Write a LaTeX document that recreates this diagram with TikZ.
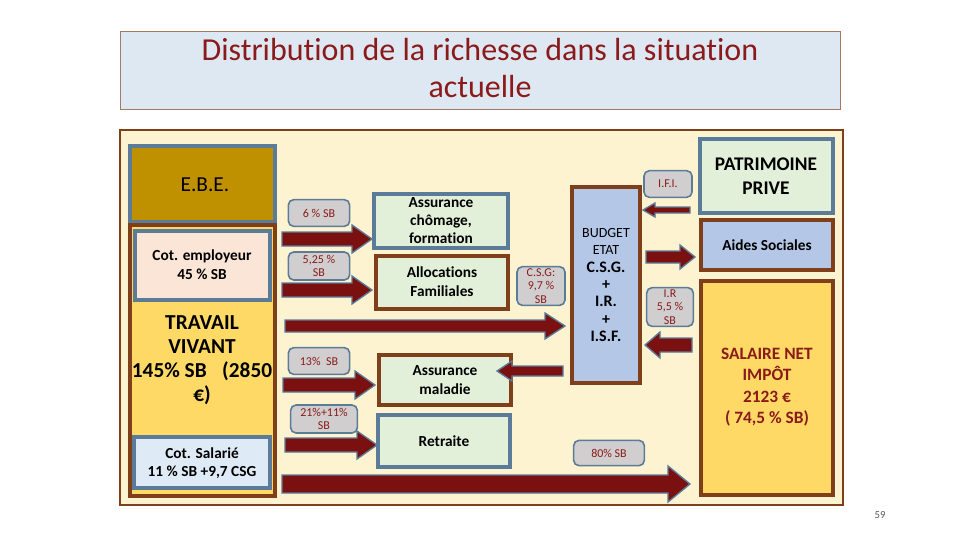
\documentclass[tikz,border=0pt]{standalone}
\usepackage{fontspec}
\setmainfont[Ligatures=NoCommon]{Carlito}
\definecolor{bluegray}{HTML}{5B7C99}
\definecolor{brownb}{HTML}{7F3F1A}
\definecolor{darkred}{HTML}{8B1A1A}
\definecolor{arrred}{HTML}{7B1010}
\definecolor{panel}{HTML}{FEF3D0}
\definecolor{gold}{HTML}{BF9000}
\definecolor{yell}{HTML}{FFD966}
\definecolor{peach}{HTML}{FBE5D6}
\definecolor{lblue}{HTML}{DEEBF7}
\definecolor{lgreen}{HTML}{E2F0D9}
\definecolor{mblue}{HTML}{B4C7E7}
\definecolor{lgray}{HTML}{D0CECE}
\definecolor{titlebg}{HTML}{DDE8F3}
\newcommand\barrow[6]{\draw[arr] ({#1},{#3-#4}) -- ({#2-(#6)},{#3-#4}) -- ({#2-(#6)},{#3-#5}) -- ({#2},{#3}) -- ({#2-(#6)},{#3+#5}) -- ({#2-(#6)},{#3+#4}) -- ({#1},{#3+#4}) -- cycle;}
\begin{document}
\begin{tikzpicture}[x=0.75pt,y=-0.75pt,
  bbox/.style={draw=bluegray,line width=3pt},
  rbox/.style={draw=brownb,line width=3pt},
  lab/.style={draw=bluegray,fill=lgray,rounded corners=4pt,line width=1.2pt,text=darkred,font=\fontsize{9}{10}\selectfont,align=center},
  arr/.style={fill=arrred,draw=bluegray,line width=1pt},
  txt/.style={font=\bfseries\fontsize{11.5}{14}\selectfont,align=center}]
\useasboundingbox (0,0) rectangle (960,540);
\fill[white] (0,0) rectangle (960,540);
% title
\node[draw=brownb!70,fill=titlebg,line width=0.6pt,minimum width=540pt,minimum height=59pt,inner sep=0pt] (title) at (480,70.5) {};
\node[text=darkred,font=\fontsize{24}{28}\selectfont,align=center] (ttext) at (480,68) {Distribution de la richesse dans la situation\\actuelle};
% panel
\draw[draw=brownb,fill=panel,line width=0.8pt] (120,130) rectangle (843,505);
% left column
\draw[bbox,fill=gold] (130,146) rectangle (275,222);
\node[font=\fontsize{16}{18}\selectfont] (ebe) at (205,185) {E.B.E.};
\draw[rbox,fill=yell] (130,225) rectangle (275,496);
\draw[bbox,fill=peach] (135,231) rectangle (270,300);
\node[txt] (cemp) at (202,265) {Cot. employeur\\45 \% SB};
\node[font=\bfseries\fontsize{16}{18}\selectfont,align=center] (trav) at (202,360) {TRAVAIL\\VIVANT\\145\% SB \enspace(2850\\€)};
\draw[bbox,fill=lblue] (134,437) rectangle (270,488);
\node[txt] (csal) at (202,463) {Cot. Salarié\\11 \% SB +9,7 CSG};
% middle boxes
\draw[bbox,fill=lgreen] (374,194) rectangle (508,248);
\node[txt,font=\bfseries\fontsize{11.5}{13.5}\selectfont] (chom) at (441,221) {Assurance\\chômage,\\formation};
\draw[rbox,fill=lgreen] (376,256) rectangle (508,309);
\node[txt] (alloc) at (442,282) {Allocations\\Familiales};
\draw[rbox,fill=lgreen] (379,355) rectangle (511,405);
\node[txt] (mal) at (445,380) {Assurance\\maladie};
\draw[bbox,fill=lgreen] (378,415) rectangle (510,467);
\node[txt] (retr) at (444,441) {Retraite};
% budget
\draw[rbox,fill=mblue] (572,187) rectangle (640,383);
\node[font=\fontsize{10.5}{13}\selectfont,align=center] (bud) at (606,285) {BUDGET\\ETAT\\\textbf{\fontsize{12}{15}\selectfont C.S.G.}\\\textbf{\fontsize{12}{15}\selectfont +}\\\textbf{\fontsize{12}{15}\selectfont I.R.}\\\textbf{\fontsize{12}{15}\selectfont +}\\\textbf{\fontsize{12}{15}\selectfont I.S.F.}};
% right column
\draw[bbox,fill=lgreen] (700,139) rectangle (833,213);
\node[font=\bfseries\fontsize{14.5}{18}\selectfont,align=center] (pat) at (766,176) {PATRIMOINE\\PRIVE};
\draw[rbox,fill=mblue] (701,220) rectangle (833,270);
\node[txt] (aides) at (767,245) {Aides Sociales};
\draw[rbox,fill=yell] (701,281) rectangle (833,495);
\node[font=\bfseries\fontsize{13}{16}\selectfont,align=center,text=darkred] (sal) at (767,387) {SALAIRE NET\\IMPÔT\\2123 €\\( 74,5 \% SB)};
% labels
\node[lab,minimum width=46pt,minimum height=20pt] (l1) at (319,213) {6 \% SB};
\node[lab,minimum width=46pt,minimum height=21pt,inner sep=1pt] (l2) at (319,266) {5,25 \%\\SB};
\node[lab,minimum width=46pt,minimum height=20pt] (l3) at (319,361) {13\% \ SB};
\node[lab,minimum width=50pt,minimum height=21pt,inner sep=1pt] (l4) at (324,419) {21\%+11\%\\SB};
\node[lab,minimum width=36pt,minimum height=29pt,inner sep=1pt] (l5) at (541,286) {C.S.G:\\9,7 \%\\SB};
\node[lab,minimum width=36pt,minimum height=20pt] (l6) at (668,184) {I.F.I.};
\node[lab,minimum width=35pt,minimum height=29pt,inner sep=1pt] (l7) at (670,307) {I.R\\5,5 \%\\SB};
\node[lab,minimum width=53pt,minimum height=19pt] (l8) at (609,453) {80\% SB};
% arrows
\barrow{282}{372}{239}{7}{14}{20}
\barrow{282}{372}{290}{7}{14}{20}
\barrow{285}{565}{326}{6}{13}{20}
\barrow{283}{375}{385}{7}{14}{20}
\barrow{285}{377}{445}{7}{14}{20}
\barrow{282}{690}{484}{9}{18}{22}
\barrow{563}{497}{371}{5}{10}{-15}
\barrow{690}{643}{210}{3}{7}{-12}
\barrow{646}{695}{257}{6}{12}{15}
\barrow{692}{645}{345}{7}{13}{-15}
\node[text=gray!70!black,font=\fontsize{8}{9}\selectfont] (pg) at (880,515) {59};
\end{tikzpicture}
\end{document}
